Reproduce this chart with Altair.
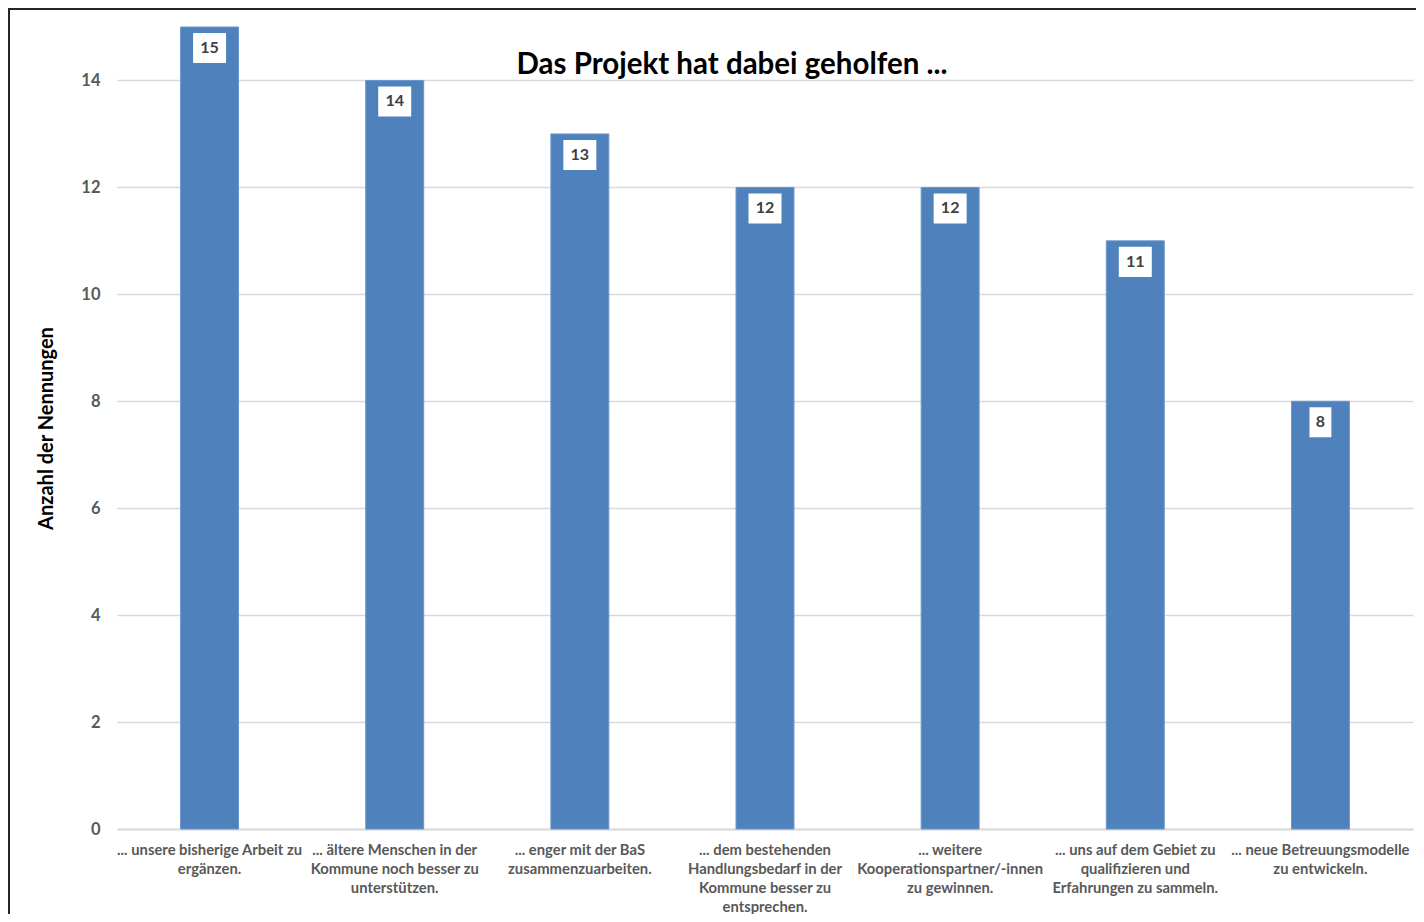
import altair as alt
import pandas as pd

categories = [
    "... unsere bisherige Arbeit zu|ergänzen.",
    "... ältere Menschen in der|Kommune noch besser zu|unterstützen.",
    "... enger mit der BaS|zusammenzuarbeiten.",
    "... dem bestehenden|Handlungsbedarf in der|Kommune besser zu|entsprechen.",
    "... weitere|Kooperationspartner/-innen|zu gewinnen.",
    "... uns auf dem Gebiet zu|qualifizieren und|Erfahrungen zu sammeln.",
    "... neue Betreuungsmodelle|zu entwickeln.",
]
values = [15, 14, 13, 12, 12, 11, 8]
y_ticks = [0, 2, 4, 6, 8, 10, 12, 14]
title_text = "Das Projekt hat dabei geholfen ..."
y_title = "Anzahl der Nennungen"

df = pd.DataFrame({"kategorie": categories, "anzahl": values,
                   "label": [str(v) for v in values]})

W, H = 1296, 802
FONT = "Lato"

x_enc = alt.X(
    "kategorie:N", sort=None,
    scale=alt.Scale(paddingInner=0.687, paddingOuter=0.3435),
    axis=alt.Axis(
        title=None, labelAngle=0, labelExpr="split(datum.label, '|')",
        labelLineHeight=19, labelFont=FONT, labelFontSize=14.8,
        labelFontWeight="bold", labelColor="#595959", labelPadding=13,
        labelLimit=400, ticks=False, domainColor="#D9D9D9", domainWidth=2,
        grid=False,
    ),
)
y_enc = alt.Y(
    "anzahl:Q",
    scale=alt.Scale(domain=[0, 15], nice=False),
    axis=alt.Axis(
        title=y_title, values=y_ticks, labelFont=FONT, labelFontSize=16.5,
        labelFontWeight="bold", labelColor="#595959", labelPadding=17,
        ticks=False, domain=False, gridColor="#D9D9D9", gridWidth=1.5,
        titleFont=FONT, titleFontSize=20, titleFontWeight="bold",
        titleColor="black", titleX=-65, titleBaseline="alphabetic",
    ),
)

base = alt.Chart(df).encode(x=x_enc, y=y_enc)

bars = base.mark_bar(color="#4F81BD", stroke="#6B96CC", strokeWidth=1)

box2 = base.transform_filter("datum.anzahl >= 10").mark_point(
    shape="M-1,-0.91L1,-0.91L1,0.91L-1,0.91Z", filled=True, color="white",
    opacity=1, size=33 * 33, yOffset=21,
)
box1 = base.transform_filter("datum.anzahl < 10").mark_point(
    shape="M-0.73,-1L0.73,-1L0.73,1L-0.73,1Z", filled=True, color="white",
    opacity=1, size=30 * 30, yOffset=21,
)
texts = base.mark_text(
    dy=21, font=FONT, fontSize=16, fontWeight="bold", color="#404040",
    baseline="middle",
).encode(text="label:N")

frame = alt.Chart(pd.DataFrame({"r": [0]})).mark_rect(
    fillOpacity=0, stroke="#262626", strokeWidth=2,
).encode(x=alt.value(-108), x2=alt.value(W + 60), y=alt.value(-18),
         y2=alt.value(H + 200))

chart = alt.layer(frame, bars, box2, box1, texts).properties(
    width=W, height=H,
    padding={"left": 109, "top": 19, "right": 3, "bottom": 85},
    autosize=alt.AutoSizeParams(type="none"),
    title=alt.TitleParams(
        text=title_text, font=FONT, fontSize=29.5, fontWeight="bold",
        color="black", anchor="middle", frame="group", dx=-33,
        offset=-95, baseline="alphabetic",
    ),
).configure(background="white").configure_view(strokeWidth=0)

chart.save("out.html", embed_options={"renderer": "svg", "actions": False})
